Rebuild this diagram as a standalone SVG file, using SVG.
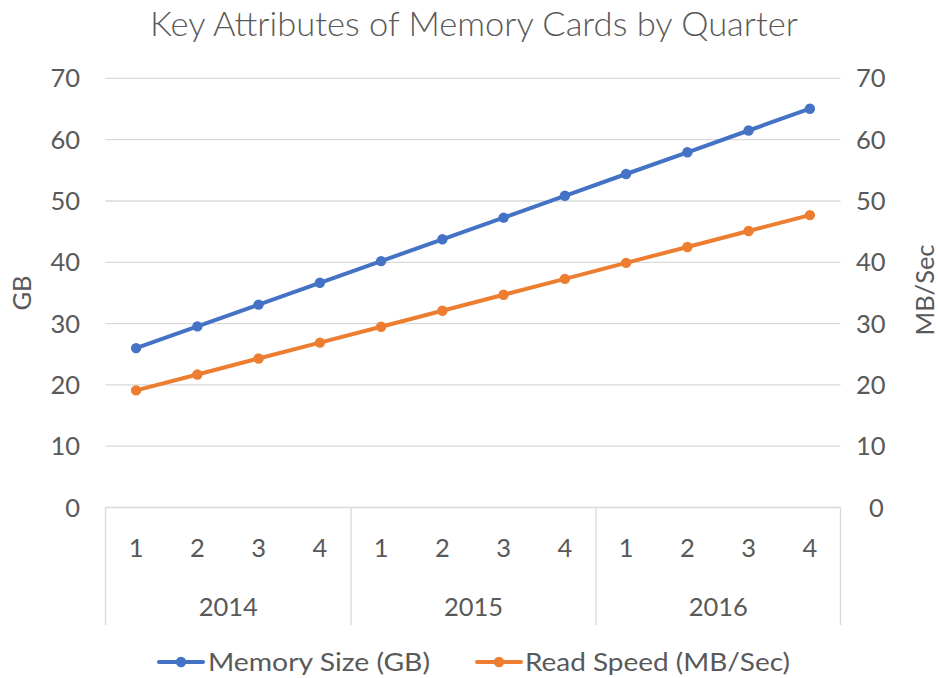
<svg xmlns="http://www.w3.org/2000/svg" width="938" height="678" viewBox="0 0 938 678">
<defs>
<style>
text{font-family:Lato,"Open Sans","Liberation Sans",sans-serif;fill:#595959}
.tk{font-size:25.5px}
.tl{text-anchor:end}
.tr{text-anchor:start}
.c{text-anchor:middle}
.grid{stroke:#D9D9D9;stroke-width:1.3;fill:none}
.blue{stroke:#4472C4;stroke-width:4;fill:none;stroke-linejoin:round;stroke-linecap:round}
.orange{stroke:#ED7D31;stroke-width:4;fill:none;stroke-linejoin:round;stroke-linecap:round}
</style>
<marker id="mb" viewBox="-6 -6 12 12" markerWidth="12" markerHeight="12" markerUnits="userSpaceOnUse" refX="0" refY="0"><circle r="5.2" fill="#4472C4"/></marker>
<marker id="mo" viewBox="-6 -6 12 12" markerWidth="12" markerHeight="12" markerUnits="userSpaceOnUse" refX="0" refY="0"><circle r="5.2" fill="#ED7D31"/></marker>
</defs>
<rect width="938" height="678" fill="#fff"/>
<text id="title" x="474" y="36" class="c" font-size="33" font-weight="300" textLength="648" lengthAdjust="spacingAndGlyphs">Key Attributes of Memory Cards by Quarter</text>
<g id="gridlines">
<path class="grid" d="M105.5 78.4H840.5M105.5 139.7H840.5M105.5 201H840.5M105.5 262.3H840.5M105.5 323.6H840.5M105.5 384.9H840.5M105.5 446.2H840.5"/>
</g>
<g id="category-axis">
<path class="grid" d="M105.5 507.5H840.5M105.5 507.5V625M351 507.5V625M596 507.5V625M840.5 507.5V625"/>
<g class="tk c">
<text x="136.1" y="557" class="c">1</text><text x="197.4" y="557" class="c">2</text><text x="258.6" y="557" class="c">3</text><text x="319.9" y="557" class="c">4</text>
<text x="381.1" y="557" class="c">1</text><text x="442.4" y="557" class="c">2</text><text x="503.6" y="557" class="c">3</text><text x="564.9" y="557" class="c">4</text>
<text x="626.1" y="557" class="c">1</text><text x="687.4" y="557" class="c">2</text><text x="748.6" y="557" class="c">3</text><text x="809.9" y="557" class="c">4</text>
</g>
<g class="tk">
<text x="228.3" y="616" class="c">2014</text>
<text x="473.5" y="616" class="c">2015</text>
<text x="718.3" y="616" class="c">2016</text>
</g>
</g>
<g id="left-axis" class="tk">
<text x="80" y="87.4" class="tl">70</text>
<text x="80" y="148.7" class="tl">60</text>
<text x="80" y="210" class="tl">50</text>
<text x="80" y="271.3" class="tl">40</text>
<text x="80" y="332.6" class="tl">30</text>
<text x="80" y="393.9" class="tl">20</text>
<text x="80" y="455.2" class="tl">10</text>
<text x="80" y="516.5" class="tl">0</text>
<text x="0" y="0" class="c" transform="translate(31 293) rotate(-90)">GB</text>
</g>
<g id="right-axis" class="tk">
<text x="856" y="87.4" class="tr">70</text>
<text x="856" y="148.7" class="tr">60</text>
<text x="856" y="210" class="tr">50</text>
<text x="856" y="271.3" class="tr">40</text>
<text x="856" y="332.6" class="tr">30</text>
<text x="856" y="393.9" class="tr">20</text>
<text x="856" y="455.2" class="tr">10</text>
<text x="869" y="516.5" class="tr">0</text>
<text x="0" y="0" class="c" transform="translate(934 290) rotate(-90)">MB/Sec</text>
</g>
<g id="connectors">
<polyline id="memory-size" class="blue" marker-start="url(#mb)" marker-mid="url(#mb)" marker-end="url(#mb)" points="136.1,348.1 197.4,326.4 258.6,304.6 319.9,282.8 381.1,261.1 442.4,239.3 503.6,217.6 564.9,195.8 626.1,174 687.4,152.3 748.6,130.5 809.9,108.7"/>
<polyline id="read-speed" class="orange" marker-start="url(#mo)" marker-mid="url(#mo)" marker-end="url(#mo)" points="136.1,390.4 197.4,374.5 258.6,358.5 319.9,342.6 381.1,326.7 442.4,310.7 503.6,294.8 564.9,278.9 626.1,262.9 687.4,247 748.6,231 809.9,215.1"/>
</g>
<g id="legend">
<g id="legend-memory">
<path class="blue" d="M159 662H203"/>
<circle cx="181" cy="662" r="5.2" fill="#4472C4"/>
<text x="208" y="671" class="tk" textLength="222" lengthAdjust="spacingAndGlyphs">Memory Size (GB)</text>
</g>
<g id="legend-read">
<path class="orange" d="M477 662H521"/>
<circle cx="499" cy="662" r="5.2" fill="#ED7D31"/>
<text x="525" y="671" class="tk" textLength="265" lengthAdjust="spacingAndGlyphs">Read Speed (MB/Sec)</text>
</g>
</g>
</svg>
